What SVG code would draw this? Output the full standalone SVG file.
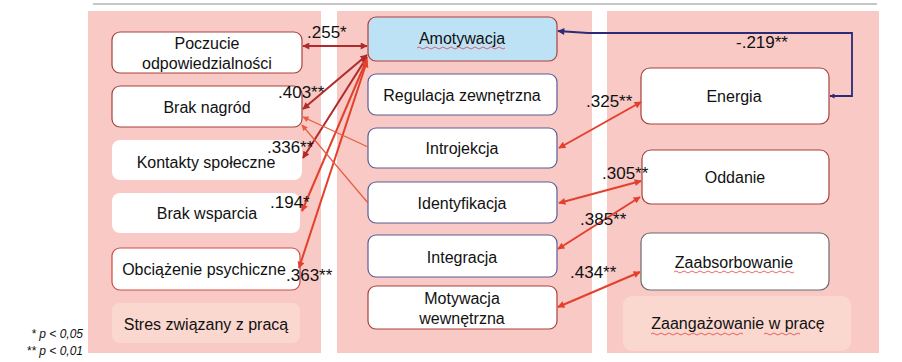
<svg xmlns="http://www.w3.org/2000/svg" width="902" height="362" viewBox="0 0 902 362">
  <style>
    .panel { fill: #f8c9c5; }
    .group { fill: #fbd8cf; }
    .node { fill: #ffffff; stroke-width: 1.2; }
    .red { stroke: #a8423c; }
    .bred { stroke: #d24a44; }
    .navy { stroke: #5c5c98; }
    .gray { stroke: #6a6a6a; }
    .none { stroke: none; }
    text { font-family: "Liberation Sans", Arial, sans-serif; font-size: 16px; fill: #111; }
    .c { text-anchor: middle; }
    .lbl { font-size: 17px; }
    .note { font-size: 12px; font-style: italic; text-anchor: end; }
    .dk { fill: none; stroke: #b02a2a; stroke-width: 2; }
    .rd { fill: none; stroke: #e3402c; stroke-width: 2; }
    .th { fill: none; stroke: #ea5a42; stroke-width: 1.2; }
    .nv { fill: none; stroke: #2b2b78; stroke-width: 1.8; }
    .wavy { fill: none; stroke: #e04040; stroke-width: 0.8; }
  </style>
  <defs>
    <marker id="ah-dk" viewBox="0 0 10 10" refX="9" refY="5" markerWidth="9" markerHeight="7" markerUnits="userSpaceOnUse" orient="auto-start-reverse">
      <path d="M0,0 L10,5 L0,10 z" fill="#b02a2a"/>
    </marker>
    <marker id="ah-rd" viewBox="0 0 10 10" refX="9" refY="5" markerWidth="9" markerHeight="7" markerUnits="userSpaceOnUse" orient="auto-start-reverse">
      <path d="M0,0 L10,5 L0,10 z" fill="#e3402c"/>
    </marker>
    <marker id="ah-th" viewBox="0 0 10 10" refX="9" refY="5" markerWidth="8" markerHeight="6" markerUnits="userSpaceOnUse" orient="auto-start-reverse">
      <path d="M0,0 L10,5 L0,10 z" fill="#ea5a42"/>
    </marker>
    <marker id="ah-nv" viewBox="0 0 10 10" refX="9" refY="5" markerWidth="9" markerHeight="7" markerUnits="userSpaceOnUse" orient="auto-start-reverse">
      <path d="M0,0 L10,5 L0,10 z" fill="#2b2b78"/>
    </marker>
    <marker id="ah-nv-s" viewBox="0 0 10 10" refX="9" refY="5" markerWidth="5" markerHeight="5" markerUnits="userSpaceOnUse" orient="auto-start-reverse">
      <path d="M0,0 L10,5 L0,10 z" fill="#2b2b78"/>
    </marker>
  </defs>

  <!-- top rule -->
  <line x1="93" y1="4" x2="877" y2="4" stroke="#c6c6c6" stroke-width="2"/>

  <!-- column backgrounds -->
  <rect class="panel" x="88" y="11" width="233" height="342"/>
  <rect class="panel" x="337" y="11" width="255" height="342"/>
  <rect class="panel" x="607" y="11" width="272" height="342"/>

  <!-- stress column -->
  <g id="poczucie">
    <rect class="node red" x="112" y="32" width="190" height="41" rx="8"/>
    <text class="c" x="207" y="49">Poczucie</text>
    <text class="c" x="207" y="69">odpowiedzialności</text>
  </g>
  <g id="brak-nagrod">
    <rect class="node red" x="112" y="86" width="190" height="41" rx="8"/>
    <text class="c" x="207" y="113">Brak nagród</text>
  </g>
  <g id="kontakty">
    <rect class="node none" x="112" y="140" width="190" height="40" rx="8"/>
    <text class="c" x="206" y="168">Kontakty społeczne</text>
  </g>
  <g id="brak-wsparcia">
    <rect class="node none" x="112" y="193" width="188" height="40" rx="8"/>
    <text class="c" x="207" y="219">Brak wsparcia</text>
  </g>
  <g id="obciazenie">
    <rect class="node bred" x="112" y="248" width="188" height="42" rx="8"/>
    <text class="c" x="204" y="275">Obciążenie psychiczne</text>
  </g>
  <g id="stres">
    <rect class="group" x="112" y="303" width="188" height="40" rx="8"/>
    <text class="c" x="206" y="330">Stres związany z pracą</text>
  </g>

  <!-- motivation column -->
  <g id="amotywacja">
    <rect x="368" y="17" width="189" height="44" rx="8" fill="#bee2f5" stroke="#a8423c" stroke-width="1.2"/>
    <text class="c" x="462" y="44">Amotywacja</text>
    <path class="wavy" d="M417,48 q2,-2 4,0 t4,0 t4,0 t4,0 t4,0 t4,0 t4,0 t4,0 t4,0 t4,0 t4,0 t4,0 t4,0 t4,0 t4,0 t4,0 t4,0 t4,0 t4,0 t4,0 t4,0 t4,0"/>
  </g>
  <g id="regulacja">
    <rect class="node navy" x="368" y="74" width="189" height="41" rx="8"/>
    <text class="c" x="462" y="101">Regulacja zewnętrzna</text>
  </g>
  <g id="introjekcja">
    <rect class="node navy" x="368" y="128" width="189" height="40" rx="8"/>
    <text class="c" x="462" y="154">Introjekcja</text>
  </g>
  <g id="identyfikacja">
    <rect class="node navy" x="368" y="182" width="189" height="41" rx="8"/>
    <text class="c" x="462" y="209">Identyfikacja</text>
  </g>
  <g id="integracja">
    <rect class="node navy" x="368" y="235" width="189" height="42" rx="8"/>
    <text class="c" x="462" y="263">Integracja</text>
  </g>
  <g id="motywacja-wewnetrzna">
    <rect class="node red" x="368" y="286" width="189" height="43" rx="8"/>
    <text class="c" x="462" y="304">Motywacja</text>
    <text class="c" x="462" y="324">wewnętrzna</text>
  </g>

  <!-- engagement column -->
  <g id="energia">
    <rect class="node red" x="641" y="68" width="188" height="56" rx="9"/>
    <text class="c" x="734" y="102">Energia</text>
  </g>
  <g id="oddanie">
    <rect class="node red" x="642" y="150" width="187" height="54" rx="9"/>
    <text class="c" x="735" y="183">Oddanie</text>
  </g>
  <g id="zaabsorbowanie">
    <rect class="node gray" x="641" y="233" width="188" height="57" rx="9"/>
    <text class="c" x="734" y="268">Zaabsorbowanie</text>
    <path class="wavy" d="M674,272 q2,-2 4,0 t4,0 t4,0 t4,0 t4,0 t4,0 t4,0 t4,0 t4,0 t4,0 t4,0 t4,0 t4,0 t4,0 t4,0 t4,0 t4,0 t4,0 t4,0 t4,0 t4,0 t4,0 t4,0 t4,0 t4,0 t4,0 t4,0 t4,0 t4,0 t4,0"/>
  </g>
  <g id="zaangazowanie">
    <rect class="group" x="623" y="296" width="228" height="55" rx="9"/>
    <text class="c" x="738" y="329">Zaangażowanie w pracę</text>
    <path class="wavy" d="M651,334 q2,-2 4,0 t4,0 t4,0 t4,0 t4,0 t4,0 t4,0 t4,0 t4,0 t4,0 t4,0 t4,0 t4,0 t4,0 t4,0 t4,0 t4,0 t4,0 t4,0 t4,0 t4,0 t4,0 t4,0"/>
    <path class="wavy" d="M764,334 q2,-2 4,0 t4,0 t4,0 t4,0 t4,0 t4,0 t4,0 t4,0 t4,0"/>
  </g>

  <!-- connectors -->
  <g id="connectors">
    <line class="dk" x1="367" y1="46" x2="303" y2="46" marker-start="url(#ah-dk)" marker-end="url(#ah-dk)"/>
    <line class="dk" x1="367" y1="55" x2="303" y2="109" marker-start="url(#ah-dk)" marker-end="url(#ah-dk)"/>
    <line class="dk" x1="367" y1="57" x2="303" y2="158" marker-start="url(#ah-dk)" marker-end="url(#ah-dk)"/>
    <line class="rd" x1="367" y1="59" x2="302" y2="211" marker-start="url(#ah-rd)" marker-end="url(#ah-rd)"/>
    <line class="rd" x1="367" y1="61" x2="299" y2="268" marker-start="url(#ah-rd)" marker-end="url(#ah-rd)"/>
    <line class="th" x1="368" y1="147" x2="303" y2="117" marker-end="url(#ah-th)"/>
    <line class="th" x1="368" y1="203" x2="302" y2="125" marker-end="url(#ah-th)"/>

    <line class="rd" x1="641" y1="102" x2="559" y2="148" marker-start="url(#ah-rd)" marker-end="url(#ah-rd)"/>
    <line class="rd" x1="641" y1="181" x2="559" y2="203" marker-start="url(#ah-rd)" marker-end="url(#ah-rd)"/>
    <line class="rd" x1="640" y1="197" x2="558" y2="249" marker-start="url(#ah-rd)" marker-end="url(#ah-rd)"/>
    <line class="rd" x1="640" y1="272" x2="558" y2="307" marker-start="url(#ah-rd)" marker-end="url(#ah-rd)"/>

    <path class="nv" d="M830,96 H852 V33 H588 L558,31" marker-start="url(#ah-nv-s)" marker-end="url(#ah-nv)"/>

    <text class="lbl" x="307" y="38">.255*</text>
    <text class="lbl" x="278" y="98">.403**</text>
    <text class="lbl" x="267" y="153">.336**</text>
    <text class="lbl" x="270" y="208">.194*</text>
    <text class="lbl" x="286" y="281">.363**</text>
    <text class="lbl" x="586" y="107">.325**</text>
    <text class="lbl" x="602" y="179">.305**</text>
    <text class="lbl" x="580" y="225">.385**</text>
    <text class="lbl" x="570" y="278">.434**</text>
    <text class="lbl" x="736" y="48">-.219**</text>
  </g>

  <!-- significance legend -->
  <text class="note" x="83" y="338">* p &lt; 0,05</text>
  <text class="note" x="83" y="355">** p &lt; 0,01</text>
</svg>
